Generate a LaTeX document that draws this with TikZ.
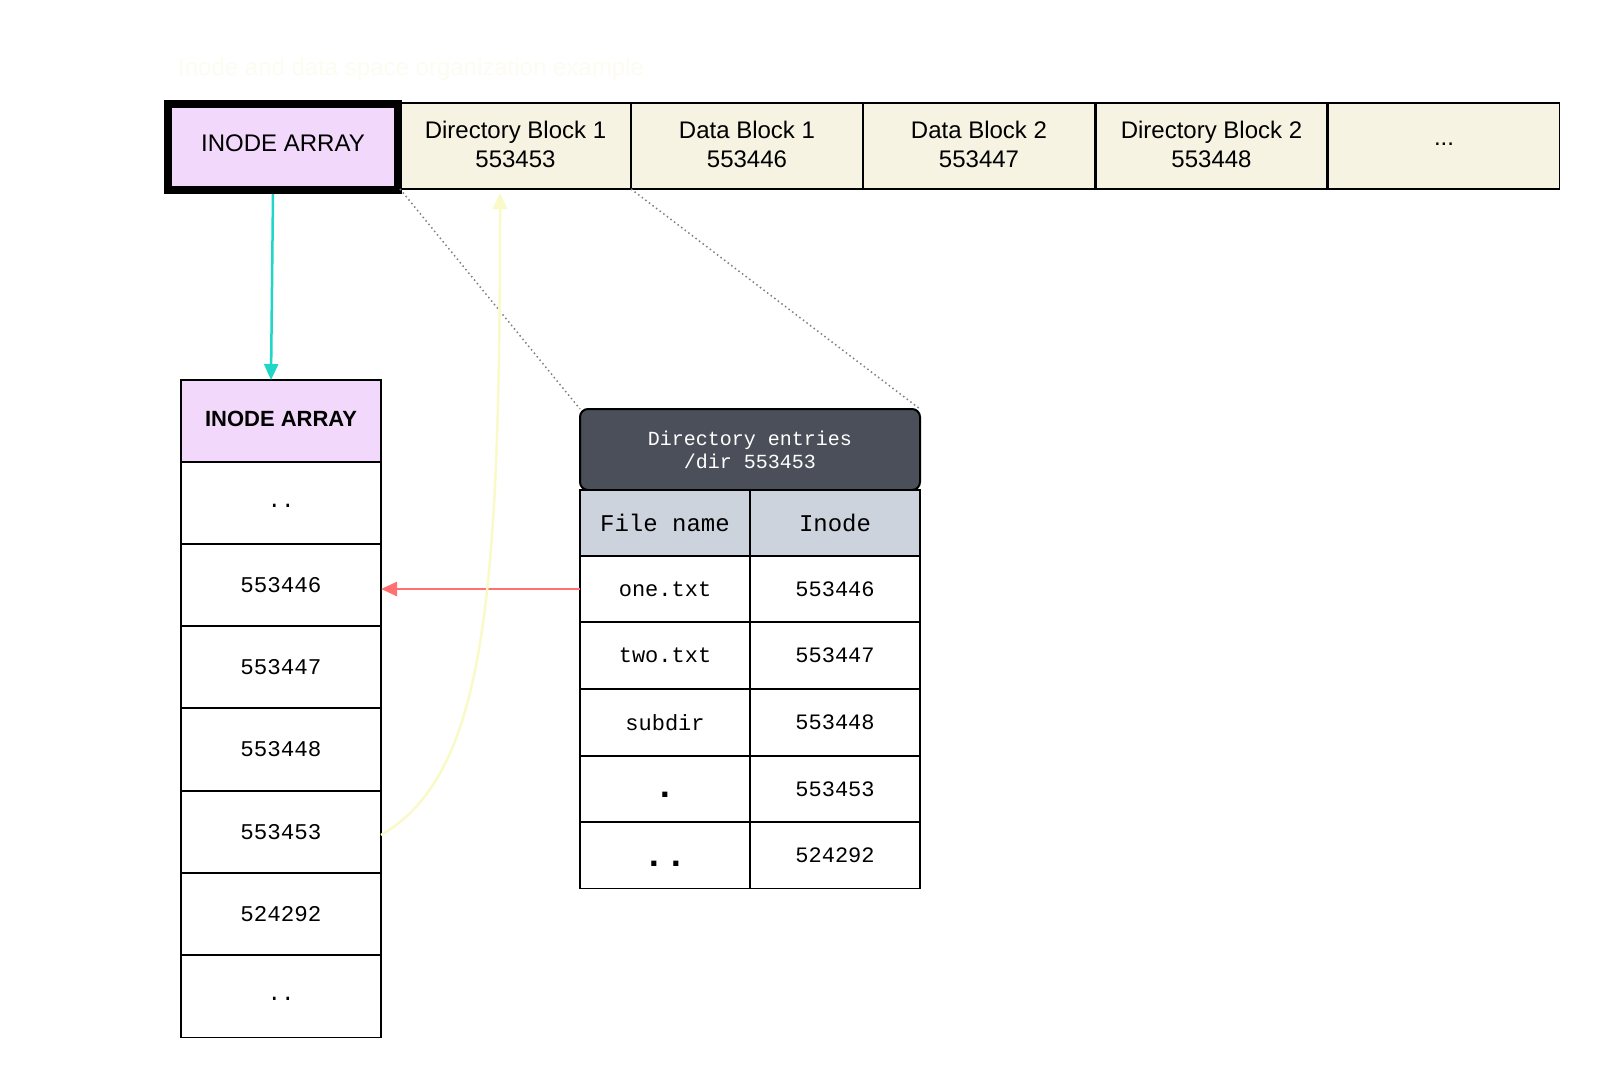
\documentclass[tikz,border=0pt]{standalone}
\usepackage{fontspec}
\setmainfont{Liberation Sans}
\setmonofont{Liberation Mono}
\usetikzlibrary{arrows.meta}
\definecolor{cream}{RGB}{246,243,227}
\definecolor{pinkf}{RGB}{242,216,251}
\definecolor{darkh}{RGB}{74,79,89}
\definecolor{grayh}{RGB}{205,211,220}
\definecolor{tealc}{RGB}{32,214,198}
\definecolor{redc}{RGB}{255,112,112}
\definecolor{yelc}{RGB}{250,250,200}
\definecolor{titlec}{RGB}{252,252,242}
\definecolor{dotc}{RGB}{128,128,128}
\tikzset{
  cell/.style={draw=black, line width=1.3pt, inner sep=0pt, outer sep=0pt, align=center},
  topcell/.style={cell, fill=cream, minimum width=231pt, minimum height=86pt, font=\fontsize{24}{29}\selectfont},
  lcell/.style={cell, fill=white, minimum width=200pt, minimum height=82pt, font=\ttfamily\fontsize{22.5}{26}\selectfont},
  tcell/.style={cell, fill=white, minimum width=170pt, minimum height=66pt, font=\ttfamily\fontsize{22}{26}\selectfont},
  hcell/.style={tcell, fill=grayh, font=\ttfamily\fontsize{24}{28}\selectfont},
  dotlab/.style={anchor=base, inner sep=0pt, font=\ttfamily\fontsize{22.5}{26}\selectfont},
  bigdots/.style={anchor=base, inner sep=0pt, font=\ttfamily\bfseries\fontsize{36}{40}\selectfont},
  arr/.style={-{Triangle[length=16pt,width=14pt]}, line width=2.5pt},
  dotl/.style={draw=dotc, line width=1.5pt, dash pattern=on 1.5pt off 3pt}
}
\begin{document}
\begin{tikzpicture}[x=1pt,y=-1pt]
\useasboundingbox (0,0) rectangle (1600,1079);
\fill[white] (0,0) rectangle (1600,1079);
% title
\node[anchor=west, text=titlec, font=\fontsize{24}{28}\selectfont, inner sep=0pt] (title) at (178,69) {Inode and data space organization example};
% top row
\node[topcell] (dir1) at (515.5,146) {Directory Block 1\\553453\rule[-3pt]{0pt}{1pt}};
\node[topcell] (data1) at (747,146) {Data Block 1\\553446\rule[-3pt]{0pt}{1pt}};
\node[topcell] (data2) at (979,146) {Data Block 2\\553447\rule[-3pt]{0pt}{1pt}};
\node[topcell] (dir2) at (1211.5,146) {Directory Block 2\\553448\rule[-3pt]{0pt}{1pt}};
\node[topcell] (more) at (1444,146) {...\rule[-4pt]{0pt}{1pt}};
\node[cell, draw=black, line width=8pt, fill=pinkf, minimum width=230pt, minimum height=86pt, font=\fontsize{24}{29}\selectfont] (inodetop) at (283,147) {INODE ARRAY\rule[-8pt]{0pt}{1pt}};
% left column
\node[lcell, fill=pinkf, font=\bfseries\fontsize{22}{26}\selectfont] (lhead) at (281,421) {INODE ARRAY\rule[-5pt]{0pt}{1pt}};
\node[lcell] (l1) at (281,503) {};
\node[dotlab] (l1t) at ([yshift=-4pt]l1.center) {..};
\node[lcell] (l2) at (281,585) {553446};
\node[lcell] (l3) at (281,667) {553447};
\node[lcell] (l4) at (281,749.5) {553448};
\node[lcell] (l5) at (281,832) {553453};
\node[lcell] (l6) at (281,914) {524292};
\node[lcell] (l7) at (281,996.5) {};
\node[dotlab] (l7t) at ([yshift=-4pt]l7.center) {..};
% directory table
\node[draw=black, line width=2pt, fill=darkh, rounded corners=8pt, minimum width=340pt, minimum height=81pt, inner sep=0pt, outer sep=0pt, align=center, text=white, font=\ttfamily\fontsize{20}{23}\selectfont] (dhead) at (750,449.5) {Directory entries\\/dir 553453};
\node[hcell] (hname) at (665,523) {File name};
\node[hcell] (hino) at (835,523) {Inode};
\node[tcell] (n1) at (665,589) {one.txt};
\node[tcell] (i1) at (835,589) {553446};
\node[tcell] (n2) at (665,655.5) {two.txt};
\node[tcell] (i2) at (835,655.5) {553447};
\node[tcell] (n3) at (665,722.5) {subdir};
\node[tcell] (i3) at (835,722.5) {553448};
\node[tcell] (n4) at (665,789) {};
\node[bigdots] (n4t) at ([yshift=-8pt]n4.center) {.};
\node[tcell] (i4) at (835,789) {553453};
\node[tcell] (n5) at (665,855.5) {};
\node[bigdots] (n5t) at ([yshift=-10.5pt]n5.center) {..};
\node[tcell] (i5) at (835,855.5) {524292};
% connectors
\draw[dotl] (dir1.south west) -- (dhead.north west);
\draw[dotl] (dir1.south east) -- (dhead.north east);
\draw[arr, draw=tealc] ([xshift=-10pt,yshift=-4pt]inodetop.south) -- ([xshift=-10pt]lhead.north);
\draw[arr, draw=redc] (n1.west) -- (n1.west -| l2.east);
\draw[arr, draw=yelc] ([yshift=-3pt]l5.east) .. controls (485,775) and (500,600) .. ([xshift=-15.5pt,yshift=-4pt]dir1.south);
\end{tikzpicture}
\end{document}
